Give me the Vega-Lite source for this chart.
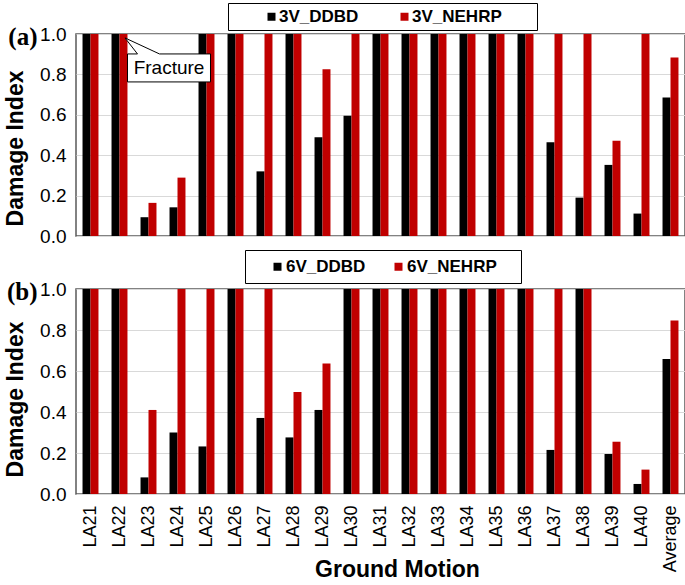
{
  "$schema": "https://vega.github.io/schema/vega-lite/v6.json",
  "background": "white",
  "padding": {"left": 3, "top": 1, "right": 0, "bottom": 0},
  "spacing": 1,
  "resolve": {"scale": {"color": "independent", "xOffset": "independent"}, "legend": {"color": "independent"}},
  "config": {
    "font": "Liberation Sans",
    "view": {"stroke": "#595959", "strokeWidth": 1.5},
    "axis": {
      "labelFont": "Liberation Sans",
      "labelColor": "black",
      "titleFont": "Liberation Sans",
      "titleFontWeight": "bold",
      "titleFontSize": 23,
      "titleColor": "black"
    },
    "legend": {
      "orient": "none",
      "direction": "horizontal",
      "symbolType": "square",
      "symbolSize": 64,
      "symbolStrokeWidth": 0,
      "labelFont": "Liberation Sans",
      "labelFontWeight": "bold",
      "labelFontSize": 17,
      "labelColor": "black",
      "strokeColor": "black",
      "fillColor": "white",
      "titleOrient": "right",
      "titleFontSize": 10,
      "titleOpacity": 0
    }
  },
  "datasets": {
    "a": [
      {"GM": "LA21", "s": "3V_DDBD", "v": 1}, {"GM": "LA21", "s": "3V_NEHRP", "v": 1},
      {"GM": "LA22", "s": "3V_DDBD", "v": 1}, {"GM": "LA22", "s": "3V_NEHRP", "v": 1},
      {"GM": "LA23", "s": "3V_DDBD", "v": 0.093}, {"GM": "LA23", "s": "3V_NEHRP", "v": 0.164},
      {"GM": "LA24", "s": "3V_DDBD", "v": 0.142}, {"GM": "LA24", "s": "3V_NEHRP", "v": 0.289},
      {"GM": "LA25", "s": "3V_DDBD", "v": 1}, {"GM": "LA25", "s": "3V_NEHRP", "v": 1},
      {"GM": "LA26", "s": "3V_DDBD", "v": 1}, {"GM": "LA26", "s": "3V_NEHRP", "v": 1},
      {"GM": "LA27", "s": "3V_DDBD", "v": 0.32}, {"GM": "LA27", "s": "3V_NEHRP", "v": 1},
      {"GM": "LA28", "s": "3V_DDBD", "v": 1}, {"GM": "LA28", "s": "3V_NEHRP", "v": 1},
      {"GM": "LA29", "s": "3V_DDBD", "v": 0.489}, {"GM": "LA29", "s": "3V_NEHRP", "v": 0.825},
      {"GM": "LA30", "s": "3V_DDBD", "v": 0.595}, {"GM": "LA30", "s": "3V_NEHRP", "v": 1},
      {"GM": "LA31", "s": "3V_DDBD", "v": 1}, {"GM": "LA31", "s": "3V_NEHRP", "v": 1},
      {"GM": "LA32", "s": "3V_DDBD", "v": 1}, {"GM": "LA32", "s": "3V_NEHRP", "v": 1},
      {"GM": "LA33", "s": "3V_DDBD", "v": 1}, {"GM": "LA33", "s": "3V_NEHRP", "v": 1},
      {"GM": "LA34", "s": "3V_DDBD", "v": 1}, {"GM": "LA34", "s": "3V_NEHRP", "v": 1},
      {"GM": "LA35", "s": "3V_DDBD", "v": 1}, {"GM": "LA35", "s": "3V_NEHRP", "v": 1},
      {"GM": "LA36", "s": "3V_DDBD", "v": 1}, {"GM": "LA36", "s": "3V_NEHRP", "v": 1},
      {"GM": "LA37", "s": "3V_DDBD", "v": 0.464}, {"GM": "LA37", "s": "3V_NEHRP", "v": 1},
      {"GM": "LA38", "s": "3V_DDBD", "v": 0.19}, {"GM": "LA38", "s": "3V_NEHRP", "v": 1},
      {"GM": "LA39", "s": "3V_DDBD", "v": 0.352}, {"GM": "LA39", "s": "3V_NEHRP", "v": 0.471},
      {"GM": "LA40", "s": "3V_DDBD", "v": 0.111}, {"GM": "LA40", "s": "3V_NEHRP", "v": 1},
      {"GM": "Average", "s": "3V_DDBD", "v": 0.686}, {"GM": "Average", "s": "3V_NEHRP", "v": 0.884}
    ],
    "b": [
      {"GM": "LA21", "s": "6V_DDBD", "v": 1}, {"GM": "LA21", "s": "6V_NEHRP", "v": 1},
      {"GM": "LA22", "s": "6V_DDBD", "v": 1}, {"GM": "LA22", "s": "6V_NEHRP", "v": 1},
      {"GM": "LA23", "s": "6V_DDBD", "v": 0.081}, {"GM": "LA23", "s": "6V_NEHRP", "v": 0.41},
      {"GM": "LA24", "s": "6V_DDBD", "v": 0.3}, {"GM": "LA24", "s": "6V_NEHRP", "v": 1},
      {"GM": "LA25", "s": "6V_DDBD", "v": 0.232}, {"GM": "LA25", "s": "6V_NEHRP", "v": 1},
      {"GM": "LA26", "s": "6V_DDBD", "v": 1}, {"GM": "LA26", "s": "6V_NEHRP", "v": 1},
      {"GM": "LA27", "s": "6V_DDBD", "v": 0.371}, {"GM": "LA27", "s": "6V_NEHRP", "v": 1},
      {"GM": "LA28", "s": "6V_DDBD", "v": 0.276}, {"GM": "LA28", "s": "6V_NEHRP", "v": 0.498},
      {"GM": "LA29", "s": "6V_DDBD", "v": 0.41}, {"GM": "LA29", "s": "6V_NEHRP", "v": 0.636},
      {"GM": "LA30", "s": "6V_DDBD", "v": 1}, {"GM": "LA30", "s": "6V_NEHRP", "v": 1},
      {"GM": "LA31", "s": "6V_DDBD", "v": 1}, {"GM": "LA31", "s": "6V_NEHRP", "v": 1},
      {"GM": "LA32", "s": "6V_DDBD", "v": 1}, {"GM": "LA32", "s": "6V_NEHRP", "v": 1},
      {"GM": "LA33", "s": "6V_DDBD", "v": 1}, {"GM": "LA33", "s": "6V_NEHRP", "v": 1},
      {"GM": "LA34", "s": "6V_DDBD", "v": 1}, {"GM": "LA34", "s": "6V_NEHRP", "v": 1},
      {"GM": "LA35", "s": "6V_DDBD", "v": 1}, {"GM": "LA35", "s": "6V_NEHRP", "v": 1},
      {"GM": "LA36", "s": "6V_DDBD", "v": 1}, {"GM": "LA36", "s": "6V_NEHRP", "v": 1},
      {"GM": "LA37", "s": "6V_DDBD", "v": 0.215}, {"GM": "LA37", "s": "6V_NEHRP", "v": 1},
      {"GM": "LA38", "s": "6V_DDBD", "v": 1}, {"GM": "LA38", "s": "6V_NEHRP", "v": 1},
      {"GM": "LA39", "s": "6V_DDBD", "v": 0.195}, {"GM": "LA39", "s": "6V_NEHRP", "v": 0.255},
      {"GM": "LA40", "s": "6V_DDBD", "v": 0.049}, {"GM": "LA40", "s": "6V_NEHRP", "v": 0.119},
      {"GM": "Average", "s": "6V_DDBD", "v": 0.659}, {"GM": "Average", "s": "6V_NEHRP", "v": 0.846}
    ]
  },
  "vconcat": [
    {
      "width": 609,
      "height": 202,
      "layer": [
        {
          "data": {"name": "a"},
          "mark": {"type": "bar"},
          "encoding": {
            "x": {"field": "GM", "type": "nominal", "sort": null,
                  "scale": {"type": "band", "domain": ["LA21","LA22","LA23","LA24","LA25","LA26","LA27","LA28","LA29","LA30","LA31","LA32","LA33","LA34","LA35","LA36","LA37","LA38","LA39","LA40","Average"], "paddingInner": 0.45, "paddingOuter": 0.225},
                  "axis": null},
            "xOffset": {"field": "s", "type": "nominal", "sort": null, "scale": {"paddingInner": 0, "paddingOuter": 0}},
            "y": {"field": "v", "type": "quantitative", "scale": {"domain": [0, 1]},
                  "axis": {"title": "Damage Index", "values": [0, 0.2, 0.4, 0.6, 0.8, 1], "format": ".1f",
                           "ticks": false, "domain": false, "labelPadding": 10, "labelFontSize": 19,
                           "gridColor": "#d9d9d9", "gridWidth": 1, "titlePadding": 12, "titleY": 114}},
            "color": {"field": "s", "type": "nominal", "sort": null,
                      "scale": {"range": ["#000000", "#C00000"]},
                      "legend": {"title": ".", "titlePadding": 27, "legendX": 152, "legendY": -31, "padding": 5, "symbolOffset": 30,
                                 "labelOffset": -1, "columnPadding": 7}}
          }
        },
        {
          "data": {"values": [{"GM": "LA21", "v": 1, "t": "(a)"}]},
          "mark": {"type": "text", "font": "Liberation Serif", "fontWeight": "bold", "fontSize": 25,
                   "align": "right", "baseline": "middle", "dx": -53, "dy": 3, "color": "black"},
          "encoding": {
            "x": {"field": "GM", "type": "nominal"},
            "y": {"field": "v", "type": "quantitative"},
            "text": {"field": "t"}
          }
        },
        {
          "data": {"values": [{"GM": "LA24", "v": 0.832}]},
          "mark": {"type": "point", "shape": "M-1.205,-0.337L-0.964,-0.337L-1.265,-0.723L-0.434,-0.337L0.795,-0.337L0.795,0.337L-1.205,0.337Z",
                   "size": 6889, "filled": true, "fill": "white", "stroke": "black", "strokeWidth": 1, "opacity": 1},
          "encoding": {
            "x": {"field": "GM", "type": "nominal"},
            "y": {"field": "v", "type": "quantitative"}
          }
        },
        {
          "data": {"values": [{"GM": "LA24", "v": 0.832, "t": "Fracture"}]},
          "mark": {"type": "text", "fontSize": 19, "align": "center", "baseline": "middle", "dx": -8.5, "color": "black"},
          "encoding": {
            "x": {"field": "GM", "type": "nominal"},
            "y": {"field": "v", "type": "quantitative"},
            "text": {"field": "t"}
          }
        }
      ]
    },
    {
      "width": 609,
      "height": 205,
      "layer": [
        {
          "data": {"name": "b"},
          "mark": {"type": "bar"},
          "encoding": {
            "x": {"field": "GM", "type": "nominal", "sort": null,
                  "scale": {"type": "band", "domain": ["LA21","LA22","LA23","LA24","LA25","LA26","LA27","LA28","LA29","LA30","LA31","LA32","LA33","LA34","LA35","LA36","LA37","LA38","LA39","LA40","Average"], "paddingInner": 0.45, "paddingOuter": 0.225},
                  "axis": {"title": "Ground Motion", "labelAngle": -90, "labelFontSize": 18, "ticks": false,
                           "domain": false, "labelPadding": 11, "titleBaseline": "alphabetic", "titleY": 82, "titleX": 321}},
            "xOffset": {"field": "s", "type": "nominal", "sort": null, "scale": {"paddingInner": 0, "paddingOuter": 0}},
            "y": {"field": "v", "type": "quantitative", "scale": {"domain": [0, 1]},
                  "axis": {"title": "Damage Index", "values": [0, 0.2, 0.4, 0.6, 0.8, 1], "format": ".1f",
                           "ticks": false, "domain": false, "labelPadding": 10, "labelFontSize": 19,
                           "gridColor": "#d9d9d9", "gridWidth": 1, "titlePadding": 12, "titleY": 110}},
            "color": {"field": "s", "type": "nominal", "sort": null,
                      "scale": {"range": ["#000000", "#C00000"]},
                      "legend": {"title": ".", "titlePadding": 13, "legendX": 169, "legendY": -39, "padding": 8, "symbolOffset": 16,
                                 "labelOffset": 0, "columnPadding": 8}}
          }
        },
        {
          "data": {"values": [{"GM": "LA21", "v": 1, "t": "(b)"}]},
          "mark": {"type": "text", "font": "Liberation Serif", "fontWeight": "bold", "fontSize": 25,
                   "align": "right", "baseline": "middle", "dx": -53, "dy": 3, "color": "black"},
          "encoding": {
            "x": {"field": "GM", "type": "nominal"},
            "y": {"field": "v", "type": "quantitative"},
            "text": {"field": "t"}
          }
        }
      ]
    }
  ]
}
